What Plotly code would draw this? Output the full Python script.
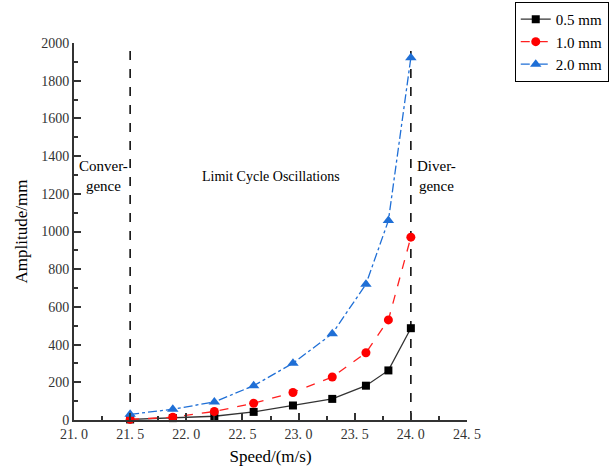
import plotly.graph_objects as go

speed = [21.5, 21.88, 22.25, 22.6, 22.95, 23.3, 23.6, 23.8, 24.0]
amp_05 = [3, 10, 20, 43, 77, 112, 182, 263, 487]
amp_10 = [3, 15, 45, 89, 146, 228, 357, 531, 970]
amp_20 = [30, 57, 96, 182, 301, 458, 720, 1058, 1922]
series_names = ["0.5 mm", "1.0 mm", "2.0 mm"]
boundaries = [21.5, 24.0]
x_ticks = [21.0, 21.5, 22.0, 22.5, 23.0, 23.5, 24.0, 24.5]
x_ticktext = ["21. 0", "21. 5", "22. 0", "22. 5", "23. 0", "23. 5", "24. 0", "24. 5"]

FONT = "Liberation Serif"

fig = go.Figure()
fig.add_trace(go.Scatter(x=speed, y=amp_05, name=series_names[0], mode="lines+markers",
                         line=dict(color="#333333", width=1.3),
                         marker=dict(symbol="square", size=8, color="black"), cliponaxis=False))
fig.add_trace(go.Scatter(x=speed, y=amp_10, name=series_names[1], mode="lines+markers",
                         line=dict(color="#ff2020", width=1.3, dash="dash"),
                         marker=dict(symbol="circle", size=9, color="#ff0000"), cliponaxis=False))
fig.add_trace(go.Scatter(x=speed, y=amp_20, name=series_names[2], mode="lines+markers",
                         line=dict(color="#1f6fd6", width=1.3, dash="dashdot"),
                         marker=dict(symbol="triangle-up", size=10, color="#1f6fd6"), cliponaxis=False))

for b in boundaries:
    fig.add_shape(type="line", x0=b, x1=b, y0=0, y1=2000, xref="x", yref="y",
                  line=dict(color="black", width=1.5, dash="dash"), layer="below")

fig.add_annotation(x=21.26, y=1292, xref="x", yref="y", text="Conver-<br>gence",
                   showarrow=False, font=dict(family=FONT, size=15, color="black"))
fig.add_annotation(x=22.75, y=1292, xref="x", yref="y", text="Limit Cycle Oscillations",
                   showarrow=False, font=dict(family=FONT, size=14, color="black"))
fig.add_annotation(x=24.23, y=1292, xref="x", yref="y", text="Diver-<br>gence",
                   showarrow=False, font=dict(family=FONT, size=15, color="black"))

fig.update_layout(
    width=615, height=474,
    margin=dict(l=74, r=148, t=43, b=54, autoexpand=False),
    paper_bgcolor="white", plot_bgcolor="white",
    font=dict(family=FONT, size=15, color="black"),
    showlegend=True,
    legend=dict(xref="container", yref="container", x=0.837, y=0.996,
                xanchor="left", yanchor="top",
                bordercolor="black", borderwidth=1, bgcolor="white",
                font=dict(family=FONT, size=15, color="black"),
                tracegroupgap=0),
    xaxis=dict(range=[21.0, 24.5], tickvals=x_ticks, ticktext=x_ticktext,
               showline=True, linecolor="#333333", linewidth=2,
               ticks="inside", ticklen=7, tickwidth=1.5, tickcolor="#333333",
               minor=dict(ticks="inside", ticklen=4, dtick=0.25, tickcolor="#333333"),
               showgrid=False, zeroline=False,
               title=dict(text="Speed/(m/s)", font=dict(family=FONT, size=17), standoff=9),
               tickfont=dict(family=FONT, size=14, color="#333333")),
    yaxis=dict(range=[0, 2000], dtick=200,
               showline=True, linecolor="#333333", linewidth=2,
               ticks="inside", ticklen=7, tickwidth=1.5, tickcolor="#333333",
               minor=dict(ticks="inside", ticklen=4, dtick=100, tickcolor="#333333"),
               showgrid=False, zeroline=False,
               title=dict(text="Amplitude/mm", font=dict(family=FONT, size=17), standoff=9),
               tickfont=dict(family=FONT, size=14, color="#333333")),
)

fig.write_html("out.html")
